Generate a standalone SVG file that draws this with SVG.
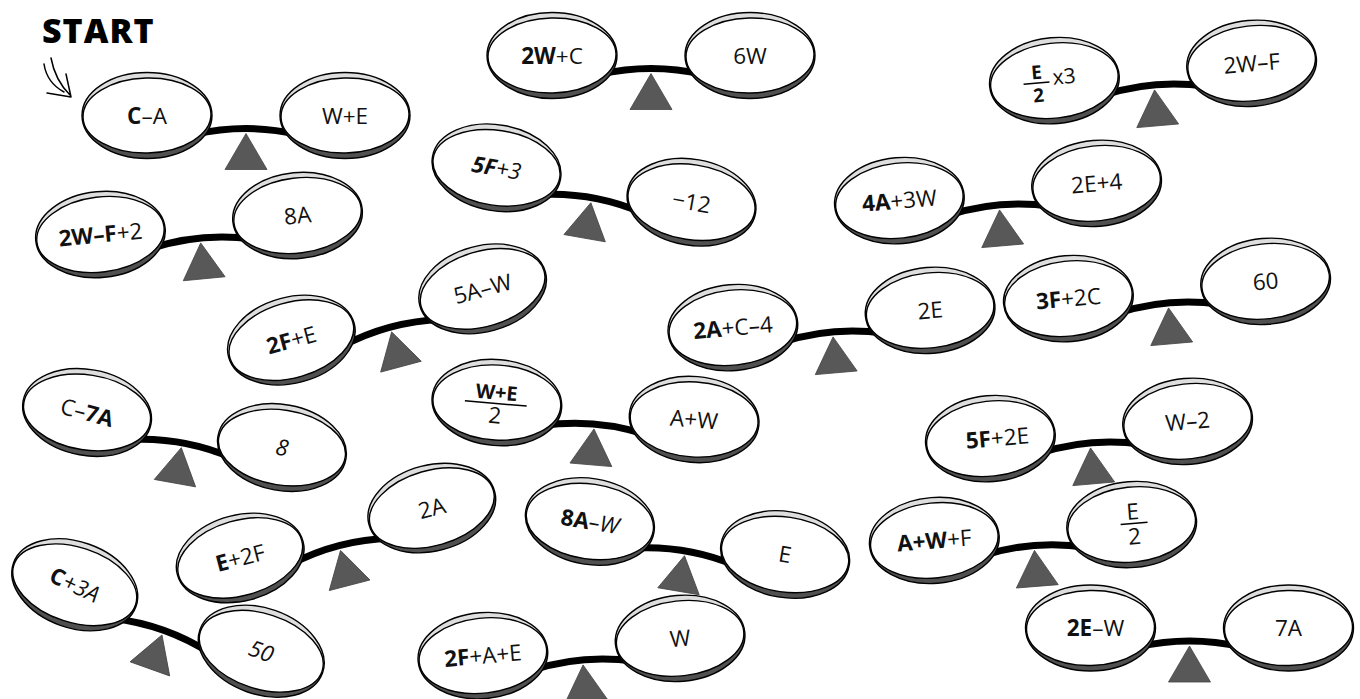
<svg xmlns="http://www.w3.org/2000/svg" xmlns:xlink="http://www.w3.org/1999/xlink" width="1360" height="699" viewBox="0 0 1360 699">
<defs>
<linearGradient id="rim" x1="0" y1="0" x2="0" y2="1">
<stop offset="0" stop-color="#dedede"/><stop offset="0.5" stop-color="#dedede"/><stop offset="0.5" stop-color="#505050"/><stop offset="1" stop-color="#505050"/>
</linearGradient>
<g id="pan">
<ellipse rx="65" ry="43" fill="url(#rim)" stroke="#000" stroke-width="1.4"/>
<ellipse rx="64" ry="37.5" fill="#fff" stroke="#000" stroke-width="1.4" transform="rotate(-1.5)"/>
</g>
<g id="base">
<path d="M-52 19Q0 7 52 19" fill="none" stroke="#000" stroke-width="7"/>
<polygon points="0,18 -21,54 21,54" fill="#585858" stroke="#444" stroke-width="0.8"/>
<use xlink:href="#pan" x="-99"/>
<use xlink:href="#pan" x="99"/>
</g>
</defs>
<style>
.t{font-family:"Open Sans","Noto Sans",sans-serif;font-size:22.5px;text-anchor:middle;fill:#111}
.b{font-weight:700}
.i{font-style:italic}
.line{stroke:#000;stroke-width:1.5}
.arrow{fill:none;stroke:#000;stroke-width:1.5;stroke-linecap:round}
</style>
<rect width="1360" height="699" fill="#fff"/>

<g id="start">
<text x="42" y="43" style="font-family:'Open Sans','DejaVu Sans',sans-serif;font-size:34px;font-weight:800;letter-spacing:1px;fill:#000">START</text>
<path class="arrow" d="M44 64Q47 83 64 92M51 58Q55 80 70 95M47 93L71 97M66 74L71 97"/>
</g>

<g id="s1" transform="translate(246,115.5)">
<use xlink:href="#base"/>
<text class="t" x="-99" y="8"><tspan class="b">C</tspan>–A</text>
<text class="t" x="99" y="8">W+E</text>
</g>

<g id="s2" transform="translate(651,55.5)">
<use xlink:href="#base"/>
<text class="t" x="-99" y="8"><tspan class="b">2W</tspan>+C</text>
<text class="t" x="99" y="8">6W</text>
</g>

<g id="s3" transform="translate(1153,72) rotate(-5)">
<use xlink:href="#base"/>
<text class="t b" x="-116" y="-3" style="font-size:19px">E</text>
<line class="line" x1="-130" y1="1" x2="-104" y2="1"/>
<text class="t b" x="-116" y="20" style="font-size:19px">2</text>
<text class="t" x="-89" y="4" style="font-size:21px">x3</text>
<text class="t" x="99" y="8">2W–F</text>
</g>

<g id="s4" transform="translate(594,185) rotate(10)">
<use xlink:href="#base"/>
<text class="t i" x="-99" y="8"><tspan class="b">5F</tspan>+3</text>
<text class="t" x="99" y="8">−12</text>
</g>

<g id="s5" transform="translate(998,192) rotate(-5)">
<use xlink:href="#base"/>
<text class="t" x="-99" y="8"><tspan class="b">4A</tspan>+3W</text>
<text class="t" x="99" y="8">2E+4</text>
</g>

<g id="s6" transform="translate(199,225) rotate(-5.5)">
<use xlink:href="#base"/>
<text class="t" x="-99" y="8"><tspan class="b">2W–F</tspan>+2</text>
<text class="t" x="99" y="8">8A</text>
</g>

<g id="s7" transform="translate(387,314.5) rotate(-15)">
<use xlink:href="#base"/>
<text class="t" x="-99" y="8"><tspan class="b">2F</tspan>+E</text>
<text class="t" x="99" y="8">5A–W</text>
</g>

<g id="s8" transform="translate(831.5,319) rotate(-5)">
<use xlink:href="#base"/>
<text class="t" x="-99" y="8"><tspan class="b">2A</tspan>+C–4</text>
<text class="t" x="99" y="8">2E</text>
</g>

<g id="s9" transform="translate(1167,290) rotate(-5)">
<use xlink:href="#base"/>
<text class="t" x="-99" y="8"><tspan class="b">3F</tspan>+2C</text>
<text class="t" x="99" y="8">60</text>
</g>

<g id="s10" transform="translate(184.5,430) rotate(10.2)">
<use xlink:href="#base"/>
<text class="t" x="-99" y="8" transform="rotate(5,-99,0)">C–<tspan class="b">7A</tspan></text>
<text class="t i" x="99" y="8">8</text>
</g>

<g id="s11" transform="translate(595.5,411) rotate(4.9)">
<use xlink:href="#base"/>
<text class="t b" x="-100" y="-3" style="font-size:20px">W+E</text>
<line class="line" x1="-131" y1="1" x2="-69" y2="1"/>
<text class="t" x="-100" y="21">2</text>
<text class="t" x="99" y="8">A+W</text>
</g>

<g id="s12" transform="translate(687.5,538) rotate(9.6)">
<use xlink:href="#base"/>
<text class="t" x="-99" y="8"><tspan class="b">8A</tspan><tspan class="i">–W</tspan></text>
<text class="t" x="99" y="8">E</text>
</g>

<g id="s13" transform="translate(581.5,647) rotate(-5)">
<use xlink:href="#base"/>
<text class="t" x="-99" y="8"><tspan class="b">2F</tspan>+A+E</text>
<text class="t" x="99" y="8">W</text>
</g>

<g id="s14" transform="translate(336,533) rotate(-14.6)">
<use xlink:href="#base"/>
<text class="t" x="-99" y="8"><tspan class="b">E</tspan>+2F</text>
<text class="t" x="99" y="8">2A</text>
</g>

<g id="s15" transform="translate(168,618) rotate(19.6)">
<use xlink:href="#base"/>
<text class="t" x="-99" y="8" transform="rotate(6,-99,0)"><tspan class="b">C</tspan><tspan class="i">+3A</tspan></text>
<text class="t i" x="99" y="8">50</text>
</g>

<g id="s16" transform="translate(1089,430) rotate(-5)">
<use xlink:href="#base"/>
<text class="t" x="-92" y="8"><tspan class="b">5F</tspan>+2E</text>
<text class="t" x="99" y="8">W–2</text>
</g>

<g id="s17" transform="translate(1033,532.5) rotate(-4.6)">
<use xlink:href="#base"/>
<text class="t" x="-99" y="8"><tspan class="b">A+W</tspan>+F</text>
<text class="t" x="101" y="-5">E</text>
<line class="line" x1="88" y1="-1" x2="115" y2="-1"/>
<text class="t" x="101" y="20">2</text>
</g>

<g id="s18" transform="translate(1189.5,628)">
<use xlink:href="#base"/>
<text class="t" x="-94" y="8"><tspan class="b">2E</tspan>–W</text>
<text class="t" x="99" y="8">7A</text>
</g>
</svg>
